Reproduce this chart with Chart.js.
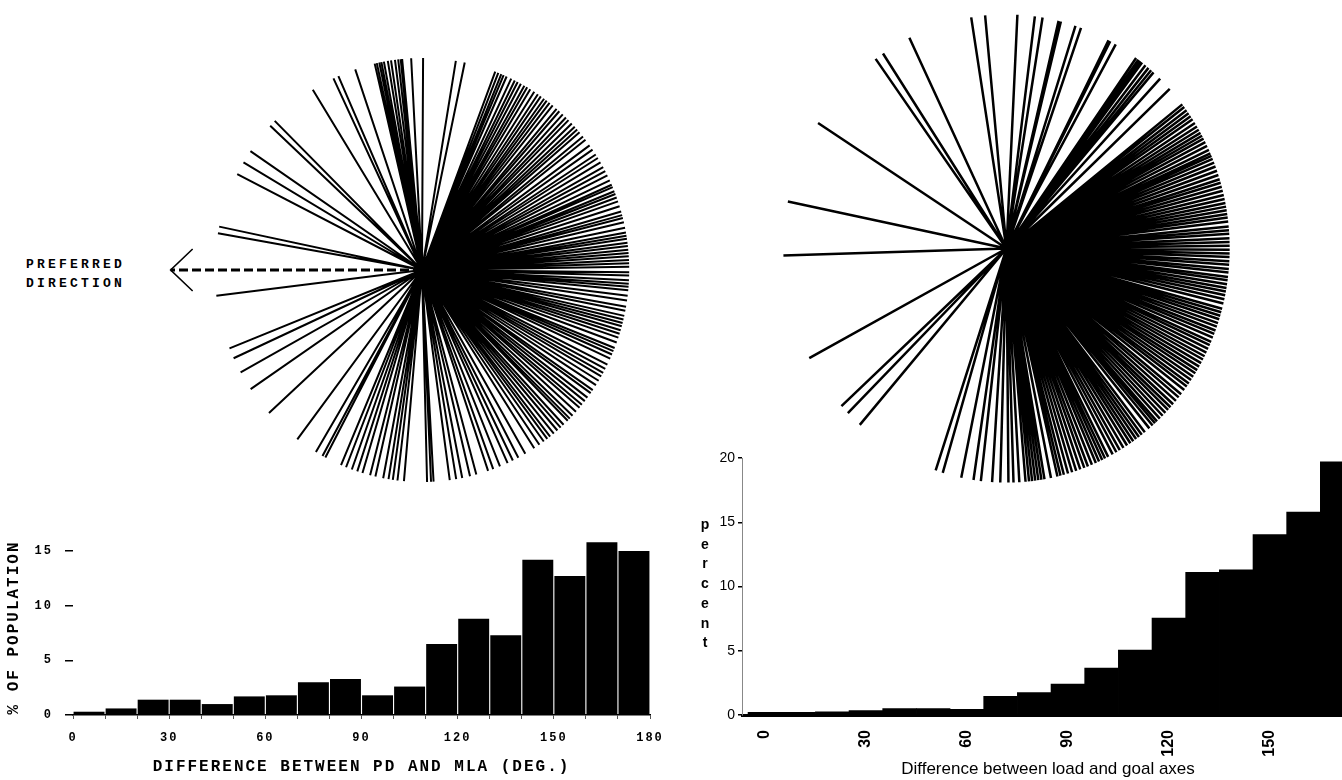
<!DOCTYPE html>
<html>
<head>
<meta charset="utf-8">
<script src="https://cdn.jsdelivr.net/npm/chart.js@4.4.0/dist/chart.umd.min.js"></script>
<style>
  body { margin: 0; width: 1342px; height: 780px; overflow: hidden; background: #fff; position: relative; }
  .box { position: absolute; }
  #prefLabel { position: absolute; left: 26px; top: 255px; font: bold 13px "Liberation Mono", monospace; letter-spacing: 3.2px; line-height: 19px; color: #000; }
  #percentLabel { position: absolute; left: 698px; top: 515px; width: 14px; font: bold 14px "Liberation Sans", Arial, sans-serif; line-height: 19.7px; text-align: center; color: #000; }
</style>
</head>
<body>
<div class="box" style="left:0px;top:500px"><canvas id="histLeft" width="700" height="280"></canvas></div>
<div class="box" style="left:700px;top:440px"><canvas id="histRight" width="680" height="340"></canvas></div>
<div class="box" style="left:163px;top:5px"><canvas id="spokesLeft" width="518" height="530"></canvas></div>
<div class="box" style="left:761px;top:-9px"><canvas id="spokesRight" width="491" height="515"></canvas></div>
<div id="prefLabel">PREFERRED<br>DIRECTION</div>
<div id="percentLabel">p<br>e<br>r<br>c<br>e<br>n<br>t</div>
<script>
// histogram bins (degrees, left edge of each 10 deg bin)
const leftBins = [0, 10, 20, 30, 40, 50, 60, 70, 80, 90, 100, 110, 120, 130, 140, 150, 160, 170];
const leftPercent = [0.3, 0.6, 1.4, 1.4, 1.0, 1.7, 1.8, 3.0, 3.3, 1.8, 2.6, 6.5, 8.8, 7.3, 14.2, 12.7, 15.8, 15.0];
const leftTickLabels = [0, 30, 60, 90, 120, 150, 180];

const rightBins = [0, 10, 20, 30, 40, 50, 60, 70, 80, 90, 100, 110, 120, 130, 140, 150, 160, 170];
const rightPercent = [0.2, 0.2, 0.25, 0.35, 0.5, 0.5, 0.45, 1.45, 1.75, 2.4, 3.65, 5.05, 7.55, 11.1, 11.3, 14.05, 15.8, 19.7];
const rightTickLabels = [0, 30, 60, 90, 120, 150];

// direction of each line in the radial plots (deg, counter-clockwise from right)
const leftAngles = [
  0.9, 1.8, 2.7, 3.7, 4.6, 5.5, 6.5, 7.4, 8.5, 9.3, 10.2, 11.5, 13.0, 14.2, 15.0, 16.0, 17.5, 18.9, 20.0, 21.0,
  21.8, 23.0, 23.7, 25.0, 26.5, 27.8, 29.0, 30.5, 31.9, 33.0, 34.6, 36.0, 37.9, 39.0, 40.5, 41.5, 42.5, 43.7,
  45.0, 46.0, 47.2, 48.5, 49.5, 50.9, 52.0, 53.0, 53.9, 55.0, 56.0, 57.2, 58.5, 59.5, 60.4, 61.5, 62.5, 63.4,
  64.5, 65.9, 66.8, 67.5, 68.4, 69.3,
  78.1, 80.6, 89.7, 93.0, 95.5, 95.9, 96.6, 97.5, 98.6, 99.5, 100.6, 101.3, 101.9, 102.6, 103.2, 108.8,
  113.8, 115.3, 121.8, 135.3, 137.1, 145.9, 149.5, 153.1, 168.2, 170.0,
  187.0, 201.7, 204.6, 208.9, 214.2, 222.4, 233.0, 239.2, 241.3, 242.2, 247.0, 248.5, 250.2, 251.8, 253.3,
  255.5, 257.0, 259.2, 260.7, 261.9, 263.2, 265.0, 271.4, 272.5, 273.2, 277.7, 279.5, 281.2, 283.4, 285.2,
  288.6, 290.1, 292.1, 294.4, 296.0, 297.7, 299.9, 302.8, 304.5, 306.0, 307.2, 308.2, 309.5, 310.8, 312.0,
  313.1, 314.7, 315.5, 316.6, 318.0, 319.5, 320.5, 321.8, 323.0, 324.5, 325.5, 327.1, 328.5, 329.9, 331.0,
  332.2, 333.5, 335.3, 336.5, 337.5, 338.4, 340.0, 341.4, 342.5, 343.5, 344.6, 345.5, 346.5, 347.5, 348.9,
  350.0, 351.7, 353.0, 354.5, 355.5, 356.3, 357.2, 358.5, 359.4
];
const rightAngles = [
  -108.5, -106.6, -101.7, -98.5, -96.6, -93.7, -91.6, -89.5, -88.2, -86.7, -85.1, -84.2, -83.4, -82.6, -81.8,
  -81.0, -80.2, -78.5, -76.8, -76.0, -75.1, -74.0, -72.9, -71.8, -70.7, -69.6, -68.6, -67.5, -66.4, -65.5,
  -64.6, -63.8, -62.9, -61.6, -60.5, -59.5, -58.4, -57.3, -56.3, -55.4, -54.5, -53.6, -52.7, -51.7, -50.2,
  -49.1, -48.3, -47.6, -46.6, -45.6, -44.6, -43.6, -42.7, -41.7, -40.6, -39.5, -38.5, -37.2, -36.1, -35.2,
  -34.2, -33.2, -32.2, -31.3, -30.3, -29.3, -28.3, -27.4, -26.4, -25.4, -24.4, -23.5, -22.4, -21.4, -20.5,
  -19.5, -18.6, -17.6, -16.7, -15.8, -14.9, -13.6, -12.5, -11.5, -10.6, -9.7, -8.8, -7.8, -7.0, -5.9, -5.0,
  -4.0, -3.1, -2.1, -1.2, -0.3,
  0.7, 1.6, 2.5, 3.6, 4.5, 5.4, 6.6, 7.6, 8.5, 9.4, 10.3, 11.2, 12.2, 13.2, 14.3, 15.3, 16.3, 17.2, 18.3,
  19.4, 20.5, 21.5, 22.5, 23.3, 24.0, 24.9, 26.0, 27.0, 28.0, 28.8, 29.6, 30.5, 31.4, 32.4, 33.5, 34.4,
  35.3, 36.2, 37.2, 38.0, 43.0, 46.5, 48.8, 49.6, 50.5, 51.5, 52.6, 53.2, 53.8, 54.5, 60.7, 62.3, 62.8,
  70.5, 72.0, 75.9, 76.5, 80.7, 82.7, 87.2, 95.5, 99.1, 115.8, 123.6, 125.9, 147.6, 168.4, 181.7, 207.9,
  222.3, 224.7, 228.9
];
const preferredDirection = 180;

const arrowLength = 1.213;
const headLength = 0.145;
const headSpread = 43;

const rad = (d) => d * Math.PI / 180;

function spokes(angles) {
  const pts = [];
  angles.forEach((a) => {
    pts.push({ x: 0, y: 0 }, { x: Math.cos(rad(a)), y: Math.sin(rad(a)) }, { x: NaN, y: NaN });
  });
  return pts;
}

const tip = { x: arrowLength * Math.cos(rad(preferredDirection)), y: arrowLength * Math.sin(rad(preferredDirection)) };
const arm = (s) => ({
  x: tip.x + headLength * Math.cos(rad(preferredDirection + 180 + s)),
  y: tip.y + headLength * Math.sin(rad(preferredDirection + 180 + s))
});

// typewriter look for the left histogram text
const typewriterSpacing = {
  id: "typewriterSpacing",
  beforeLayout(chart) { chart.ctx.letterSpacing = "2px"; },
  beforeDraw(chart) { chart.ctx.letterSpacing = "2px"; }
};

const monoTick = { family: "Liberation Mono", size: 12, weight: "bold" };
const monoTitle = { family: "Liberation Mono", size: 16, weight: "bold" };
const sans = "Liberation Sans";

Chart.defaults.color = "#000";

new Chart(document.getElementById("histLeft"), {
  type: "bar",
  data: {
    datasets: [{
      data: leftBins.map((b, i) => ({ x: b + 5, y: leftPercent[i] })),
      backgroundColor: "#000",
      barPercentage: 0.965,
      categoryPercentage: 1
    }]
  },
  options: {
    responsive: false,
    animation: false,
    layout: { padding: { top: 40, right: 50, left: 0, bottom: 0 } },
    plugins: { legend: { display: false }, tooltip: { enabled: false } },
    scales: {
      x: {
        type: "linear", min: 0, max: 180, offset: false,
        afterFit(s) { s.height = 65; },
        grid: { offset: false, drawOnChartArea: false, tickLength: 4, color: "#555", lineWidth: 1 },
        border: { display: true, color: "#000", width: 1.5 },
        ticks: {
          stepSize: 10, autoSkip: false, maxRotation: 0, padding: 12, font: monoTick,
          callback: (v) => (leftTickLabels.includes(v) ? String(v) : "")
        },
        title: { display: true, text: "DIFFERENCE BETWEEN PD AND MLA (DEG.)", font: monoTitle, padding: { top: 0, bottom: 3 } }
      },
      y: {
        min: 0, max: 16,
        afterFit(s) { s.width = 73; },
        grid: { drawOnChartArea: false, tickLength: 8, color: "#000", lineWidth: 1.5 },
        border: { display: false },
        ticks: { stepSize: 5, includeBounds: false, padding: 12, font: monoTick },
        title: { display: true, text: "% OF POPULATION", font: monoTitle, padding: { top: 4, bottom: 4 } }
      }
    }
  },
  plugins: [typewriterSpacing]
});

new Chart(document.getElementById("histRight"), {
  type: "bar",
  data: {
    datasets: [{
      data: rightBins.map((b, i) => ({ x: b + 5, y: rightPercent[i] })),
      backgroundColor: "#000",
      barPercentage: 1,
      categoryPercentage: 1
    }]
  },
  options: {
    responsive: false,
    animation: false,
    layout: { padding: { top: 18, right: 26, left: 0, bottom: 0 } },
    plugins: { legend: { display: false }, tooltip: { enabled: false } },
    scales: {
      x: {
        type: "linear", min: -1.8, max: 180, offset: false,
        afterFit(s) { s.height = 65; },
        afterBuildTicks(s) { s.ticks = rightTickLabels.map((v) => ({ value: v + 5 })); },
        grid: { display: false },
        border: { display: true, color: "#000", width: 3 },
        ticks: {
          autoSkip: false, minRotation: 90, maxRotation: 90, padding: 7,
          font: { family: sans, size: 16, weight: "bold" },
          callback: (v) => String(v - 5)
        },
        title: { display: true, text: "Difference between load and goal axes", font: { family: sans, size: 17 }, padding: { top: 0, bottom: 0 } }
      },
      y: {
        min: 0, max: 20,
        afterFit(s) { s.width = 42; },
        grid: { drawOnChartArea: false, tickLength: 4, color: "#000", lineWidth: 1.5 },
        border: { display: true, color: "#888", width: 1, dash: [1, 3] },
        ticks: { stepSize: 5, padding: 3, font: { family: sans, size: 14 } }
      }
    }
  }
});

function radialOptions(range) {
  return {
    responsive: false,
    animation: false,
    layout: { padding: 0 },
    plugins: { legend: { display: false }, tooltip: { enabled: false } },
    elements: { point: { radius: 0, hitRadius: 0 } },
    scales: {
      x: { type: "linear", min: -range, max: range, display: false },
      y: { type: "linear", min: -range, max: range, display: false }
    }
  };
}

new Chart(document.getElementById("spokesLeft"), {
  type: "scatter",
  data: {
    datasets: [
      { data: spokes(leftAngles), showLine: true, spanGaps: false, borderColor: "#000", borderWidth: 2 },
      { data: [{ x: 0, y: 0 }, tip], showLine: true, borderColor: "#000", borderWidth: 3, borderDash: [9, 4] },
      { data: [arm(headSpread), tip, arm(-headSpread)], showLine: true, borderColor: "#000", borderWidth: 1.6 }
    ]
  },
  options: radialOptions(1.25)
});

new Chart(document.getElementById("spokesRight"), {
  type: "scatter",
  data: {
    datasets: [
      { data: spokes(rightAngles), showLine: true, spanGaps: false, borderColor: "#000", borderWidth: 2.5 }
    ]
  },
  options: radialOptions(1.1)
});
</script>
</body>
</html>
